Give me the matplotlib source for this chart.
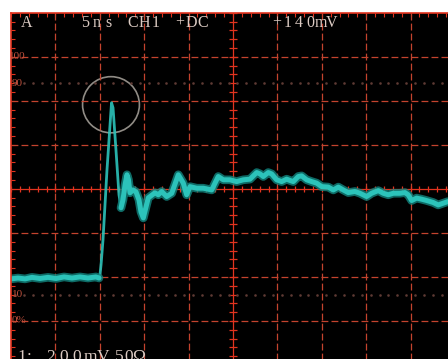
import numpy as np
import matplotlib.pyplot as plt
from matplotlib.patches import Ellipse
from matplotlib.ticker import MultipleLocator

W, H = 448, 359  # output size in pixels

# scope settings: 5 ns/div, 200 mV/div, 10 x 8 divisions
NS_DIV = 5
MV_DIV = 200

# captured waveform (time in ns from left edge, volts in mV from centre line)
t_ns = [0.0, 0.79, 1.58, 2.36, 3.27, 4.17, 5.07, 5.97, 6.87, 7.77, 8.67, 9.57, 9.91,
        10.02, 10.14, 10.36, 10.81, 11.32, 11.49, 11.82, 12.16, 12.39,
        12.61, 12.84, 13.06, 13.23, 13.40, 13.74, 14.08, 14.41, 14.64, 14.90,
        15.46, 16.21, 16.59, 16.97, 17.53, 18.10, 18.84, 19.40, 19.78, 20.16,
        20.91, 21.65, 22.60, 23.34, 23.91, 24.66, 25.41, 26.16, 26.91,
        27.67, 28.04, 28.41, 28.97, 29.35, 29.92, 30.48, 31.04, 31.42, 31.79,
        32.35, 32.73, 33.30, 33.86, 34.42, 34.99, 35.73, 36.30, 36.86, 37.42,
        37.98, 38.73, 39.30, 40.05, 40.61, 41.36, 41.92, 42.48, 43.05, 43.80,
        44.36, 44.73, 45.12, 45.68, 46.24, 46.81, 47.55, 48.11, 48.68, 49.20]
v_mv = [-409, -405, -409, -402, -407, -402, -407, -400, -405, -400, -405, -400, -405,
        -391, -345, -232, 86, 391, 368, 177, -27, -86,
        -50, 18, 64, 41, -18, -5, -14, -50, -105, -132,
        -41, -18, -27, -12, -35, -20, 64, 26, -27, 10,
        3, 3, -5, 56, 41, 41, 33, 41, 44,
        74, 68, 56, 74, 68, 41, 33, 44, 38, 33,
        56, 59, 41, 33, 26, 10, 8, -5, 8, -5,
        -17, -12, -20, -35, -20, -8, -20, -27, -20, -20,
        -17, -27, -53, -42, -47, -53, -62, -73, -65, -58]

# rise-time reference levels
pct_levels = [("100", 600), ("90", 480), ("10", -480), ("0%", -600)]

GRID = "#c4432e"
BORDER = "#e2341f"
TRACE = "#2cc3ba"
TRACE_DK = "#12857f"
TXT = "#dccbc3"

fig = plt.figure(figsize=(W / 100, H / 100), dpi=100, facecolor="white")
ax = fig.add_axes([11 / W, 1 - 365 / H, 444 / W, 352.3 / H])
ax.set_facecolor("black")
ax.set_xlim(0, 10 * NS_DIV)
ax.set_ylim(-4 * MV_DIV, 4 * MV_DIV)

# graticule
for x in np.arange(NS_DIV, 10 * NS_DIV, NS_DIV):
    if x != 5 * NS_DIV:
        ax.axvline(x, color=GRID, lw=0.9, ls=(0, (5.5, 2.5)))
for y in np.arange(-3 * MV_DIV, 4 * MV_DIV, MV_DIV):
    if y != 0:
        ax.axhline(y, color=GRID, lw=0.9, ls=(0, (5.5, 2.5)))
ax.axvline(5 * NS_DIV, color=BORDER, lw=0.9)
ax.axhline(0, color=BORDER, lw=0.9)
mx = np.arange(0, 10 * NS_DIV + 0.1, NS_DIV / 5)
my = np.arange(-4 * MV_DIV, 4 * MV_DIV + 1, MV_DIV / 5)
ax.plot(mx, np.zeros_like(mx), ls="none", marker="|", ms=3.8, mew=0.9, color=BORDER)
ax.plot(np.full_like(my, 5 * NS_DIV), my, ls="none", marker="_", ms=5.5, mew=0.9, color=BORDER)

# dotted 10% / 90% markers
for _, lvl in pct_levels[1:3]:
    ax.plot(mx[:-1] + NS_DIV / 10, np.full(len(mx) - 1, lvl), ls="none",
            marker="s", ms=0.8, color="#5e3a34")

for s in ["right", "bottom"]:
    ax.spines[s].set_visible(False)
for s in ["top", "left"]:
    ax.spines[s].set_color(BORDER)
    ax.spines[s].set_linewidth(1.2)
ax.xaxis.set_ticks_position("top")
ax.yaxis.set_ticks_position("left")
ax.xaxis.set_major_locator(MultipleLocator(NS_DIV / 5))
ax.yaxis.set_major_locator(MultipleLocator(MV_DIV / 5))
ax.tick_params(direction="in", length=3, width=0.8, color=BORDER,
               labeltop=False, labelleft=False, labelbottom=False)

# waveform: thin on the fast edge, thick and glowing on the slow parts
t = np.array(t_ns)
v = np.array(v_mv)
ax.plot(t, v, color=TRACE, lw=2.0, alpha=0.9, solid_capstyle="round")
for m in [t <= 10.0, t >= 12.3]:
    ax.plot(t[m], v[m], color=TRACE_DK, lw=6.2, alpha=0.8,
            solid_joinstyle="round", solid_capstyle="round")
    ax.plot(t[m], v[m], color=TRACE, lw=3.6,
            solid_joinstyle="round", solid_capstyle="round")

# cursor ring around the overshoot peak
ipk = int(np.argmax(v))
ax.add_patch(Ellipse((t[ipk] - 0.06, v[ipk] - 9), 6.4, 255, fill=False,
                     ec="#aaa59d", lw=1.2, alpha=0.85))


def px(x, y):
    return x / W, 1 - y / H


def spaced(x0, y0, s, pitch, size, color=TXT, **kw):
    # scope font draws characters on a fixed pitch
    for i, c in enumerate(s):
        if c != " ":
            fig.text(*px(x0 + i * pitch, y0), c, ha="center", va="baseline",
                     fontsize=size, color=color, family="Liberation Serif", **kw)


spaced(27, 27, "A", 11.8, 11.5)
spaced(85, 27, "5ns CH1 +DC", 11.8, 11.5)
spaced(277, 27, "+140mV", 11.0, 11.5)
spaced(22, 361, "1:", 7, 12.5)
spaced(51, 361, "200mV", 13, 12.5)
spaced(119, 361, "50Ω", 10, 12.5)

for lab, lvl in pct_levels:
    ax.text(-0.25 if lab == "100" else 0.1, lvl, lab, ha="left", va="center",
            fontsize=8, color="#c0503c", family="Liberation Serif", clip_on=True)

fig.savefig("out.png", dpi=100, facecolor="white")
